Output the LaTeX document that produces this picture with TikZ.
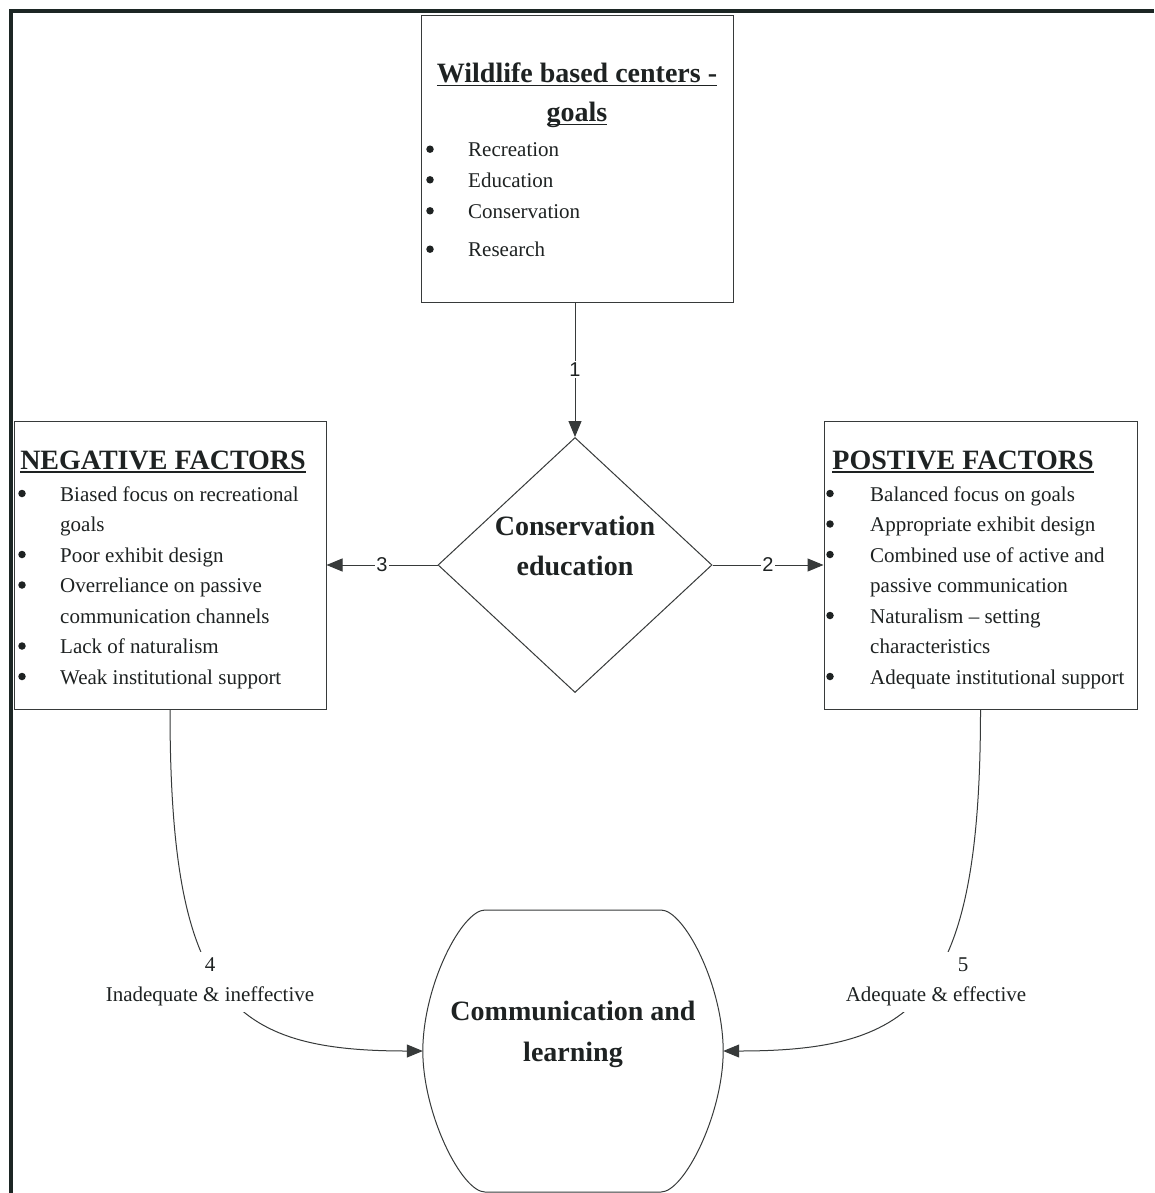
\documentclass[tikz,border=0pt]{standalone}
\usepackage{fontspec}
\setmainfont{Liberation Serif}
\newfontfamily\arialf{Liberation Sans}
\usetikzlibrary{shapes.geometric,arrows.meta}
\definecolor{ink}{RGB}{30,34,34}
\definecolor{edge}{RGB}{55,58,58}
\definecolor{frame}{RGB}{28,38,36}
\newcommand\myul[1]{\setbox0\hbox{#1}\leavevmode\rlap{\rule[-3.5pt]{\wd0}{1.8pt}}\box0}
\begin{document}
\begin{tikzpicture}[x=1pt,y=-1pt,
  box/.style={draw=edge,line width=1pt,rectangle,inner sep=0pt},
  title/.style={font=\bfseries\fontsize{28}{30}\selectfont,text=ink,inner sep=0pt,anchor=base},
  item/.style={font=\fontsize{21}{24}\selectfont,text=ink,inner sep=0pt,anchor=base west},
  bul/.style={circle,fill=ink,inner sep=0pt,minimum size=7.5pt},
  num/.style={font=\arialf\fontsize{20}{22}\selectfont,text=ink,fill=white,inner sep=1.5pt},
  lab/.style={font=\fontsize{21}{30}\selectfont,text=ink,align=center,fill=white,inner xsep=2pt,inner ysep=6pt},
  conn/.style={draw=edge,line width=1pt},
  arr/.style={conn,-{Triangle[length=16pt,width=13pt]}}]
\useasboundingbox[fill=white] (0,0) rectangle (1154,1193);
% frame
\draw[line width=4pt,draw=frame,line join=miter] (11,1193) -- (11,11) -- (1154,11);

% shapes
\node[box,minimum width=312pt,minimum height=286pt] (goals) at (577,159) {};
\node[box,minimum width=312pt,minimum height=288pt] (neg) at (170,565) {};
\node[box,minimum width=313pt,minimum height=288pt] (pos) at (980.5,565) {};
\node[diamond,draw=edge,line width=1pt,minimum width=274pt,minimum height=255pt,inner sep=0pt] (ce) at (575,565) {};
\node[minimum width=300pt,minimum height=282pt,inner sep=0pt] (comm) at (573,1051) {};
\draw[conn] (485,910) -- (661,910) .. controls (684,910) and (723,985) .. (comm.east)
  .. controls (723,1115) and (684,1192) .. (661,1192) -- (485,1192)
  .. controls (462,1192) and (423,1115) .. (comm.west)
  .. controls (423,985) and (462,910) .. cycle;

% top box text
\node[title] (g1) at (577,83) {\myul{Wildlife based centers -}};
\node[title] (g2) at (577,122) {\myul{goals}};
\node[bul] (gb1) at (430,149.2) {};
\node[item] (gi1) at (468,156.7) {Recreation};
\node[bul] (gb2) at (430,179.8) {};
\node[item] (gi2) at (468,187.3) {Education};
\node[bul] (gb3) at (430,210.8) {};
\node[item] (gi3) at (468,218.3) {Conservation};
\node[bul] (gb4) at (430,249.2) {};
\node[item] (gi4) at (468,256.7) {Research};

% negative box text
\node[title] (nt) at (163,469.3) {\myul{NEGATIVE FACTORS}};
\node[bul] (nb1) at (22,493.5) {};
\node[item] (ni1) at (60,501) {Biased focus on recreational};
\node[item] (ni1b) at (60,531.5) {goals};
\node[bul] (nb2) at (22,554.5) {};
\node[item] (ni2) at (60,562) {Poor exhibit design};
\node[bul] (nb3) at (22,585) {};
\node[item] (ni3) at (60,592.5) {Overreliance on passive};
\node[item] (ni3b) at (60,623) {communication channels};
\node[bul] (nb4) at (22,646) {};
\node[item] (ni4) at (60,653.5) {Lack of naturalism};
\node[bul] (nb5) at (22,676.5) {};
\node[item] (ni5) at (60,684) {Weak institutional support};

% positive box text
\node[title] (pt) at (963,469) {\myul{POSTIVE FACTORS}};
\node[bul] (pb1) at (830,493.5) {};
\node[item] (pi1) at (870,501) {Balanced focus on goals};
\node[bul] (pb2) at (830,524) {};
\node[item] (pi2) at (870,531.5) {Appropriate exhibit design};
\node[bul] (pb3) at (830,554.5) {};
\node[item] (pi3) at (870,562) {Combined use of active and};
\node[item] (pi3b) at (870,592.5) {passive communication};
\node[bul] (pb4) at (830,615.5) {};
\node[item] (pi4) at (870,623) {Naturalism – setting};
\node[item] (pi4b) at (870,653.5) {characteristics};
\node[bul] (pb5) at (830,676.5) {};
\node[item] (pi5) at (870,684) {Adequate institutional support};

% diamond text
\node[title] (ct1) at (575,535) {Conservation};
\node[title] (ct2) at (575,575) {education};

% comm text
\node[title] (mt1) at (573,1020) {Communication and};
\node[title] (mt2) at (573,1061.7) {learning};

% connectors
\draw[arr] (ce.north |- goals.south) -- node[num] (n1) {1} (ce.north);
\draw[arr] (ce.west) -- node[num] (n3) {3} (neg.east);
\draw[arr] (ce.east) -- node[num] (n2) {2} (pos.west);
\draw[arr] (neg.south) .. controls +(0,291) and +(-193,0) .. (comm.west);
\draw[arr] (pos.south) .. controls +(0,291) and +(193,0) .. (comm.east);
\node[lab] (l4) at (210,982) {4\\Inadequate \& ineffective};
\node[lab] (l5) at (936,982) {\hspace*{54pt}5\\Adequate \& effective};
\end{tikzpicture}
\end{document}
